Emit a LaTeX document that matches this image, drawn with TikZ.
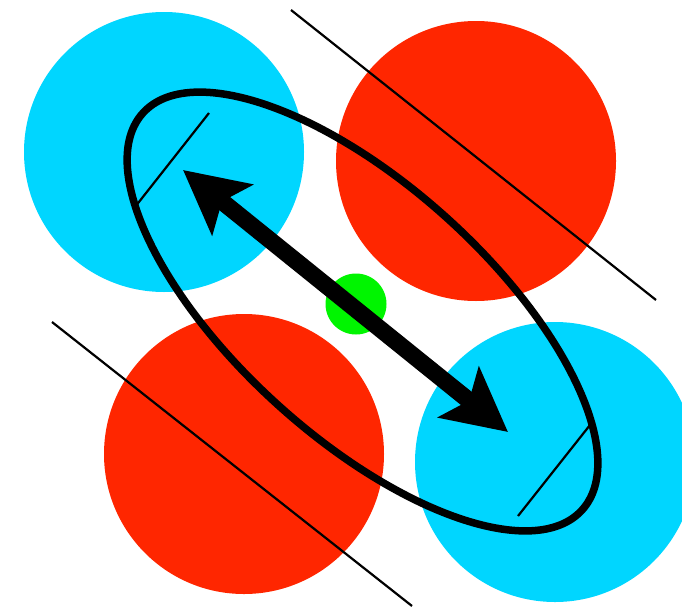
\documentclass[tikz,border=0pt]{standalone}
\usepackage{tikz}
\usetikzlibrary{arrows.meta}
\definecolor{ioncyan}{RGB}{0,214,255}
\definecolor{ionred}{RGB}{255,38,0}
\definecolor{iongreen}{RGB}{0,245,0}

\begin{document}
\begin{tikzpicture}[
  x=1pt,y=-1pt,
  ball/.style={radius=140},
  thin line/.style={draw,line width=2.2pt},
  orbit/.style={draw,line width=7.5pt},
  arr/.style={{Stealth[length=63pt,width=64pt,inset=13pt]}-{Stealth[length=63pt,width=64pt,inset=13pt]},line width=17pt}
]
\useasboundingbox (0,0) rectangle (682,608);
\coordinate (B1) at (164,152);
\coordinate (R1) at (476,161);
\coordinate (R2) at (244,454);
\coordinate (B2) at (555,462);
\coordinate (C) at (356,304);
\fill[ioncyan] (B1) circle[ball];
\fill[ioncyan] (B2) circle[ball];
\fill[ionred] (R1) circle[ball];
\fill[ionred] (R2) circle[ball];
\draw[thin line] (291,10) -- (656,300);
\draw[thin line] (52,322) -- (412,606);
\draw[thin line] (209,113) -- (135,207);
\draw[thin line] (590,425) -- (518,516);
\fill[iongreen] (C) circle[radius=30.5];
\draw[orbit] (362.5,311.5) ellipse[x radius=296,y radius=126,rotate=-42.1];
\coordinate (tipA) at (183,170);
\coordinate (tipB) at (508,432);
\draw[arr] (tipA) -- (tipB);
\end{tikzpicture}
\end{document}
